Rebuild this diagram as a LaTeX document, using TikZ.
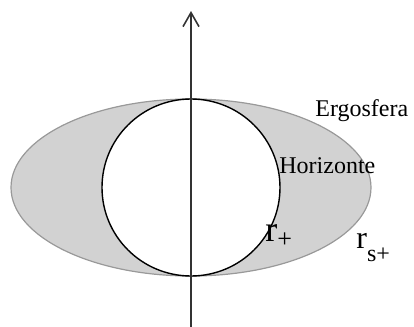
\documentclass[tikz,border=0pt]{standalone}
\usepackage{fontspec}
\setmainfont{Liberation Serif}
\usetikzlibrary{arrows.meta}

\begin{document}
\begin{tikzpicture}[x=0.5pt, y=-0.5pt, every node/.style={inner sep=0pt, font=\fontsize{12}{14}\selectfont}]
  \useasboundingbox (0,0) rectangle (414,327);
  \coordinate (centre) at (191,187.5);
  \fill[gray!35] (centre) ellipse [x radius=180, y radius=88.5];
  \draw[gray!80, line width=0.6pt] (centre) ellipse [x radius=180, y radius=88.5];
  \draw[draw=black, fill=white, line width=0.7pt] (centre) ellipse [x radius=89, y radius=88.5];
  \coordinate (axisfoot) at (191,327);
  \coordinate (axistip) at (191,11);
  \draw[-{Straight Barb[length=7pt, width=8pt]}, black!80, line width=0.8pt] (axisfoot) -- (axistip);
  \node[anchor=base west] (ergo) at (315,116) {Ergosfera};
  \node[anchor=base west] (hor) at (279,173) {Horizonte};
  \node[anchor=base west] (rplus) at (265,241)
    {{\fontsize{18}{20}\selectfont r}\raisebox{-3.2pt}{\fontsize{13}{14}\selectfont +}};
  \node[anchor=base west] (rsplus) at (356,248)
    {{\fontsize{16}{18}\selectfont r}\raisebox{-6.5pt}{\fontsize{12}{14}\selectfont s+}};
\end{tikzpicture}
\end{document}
